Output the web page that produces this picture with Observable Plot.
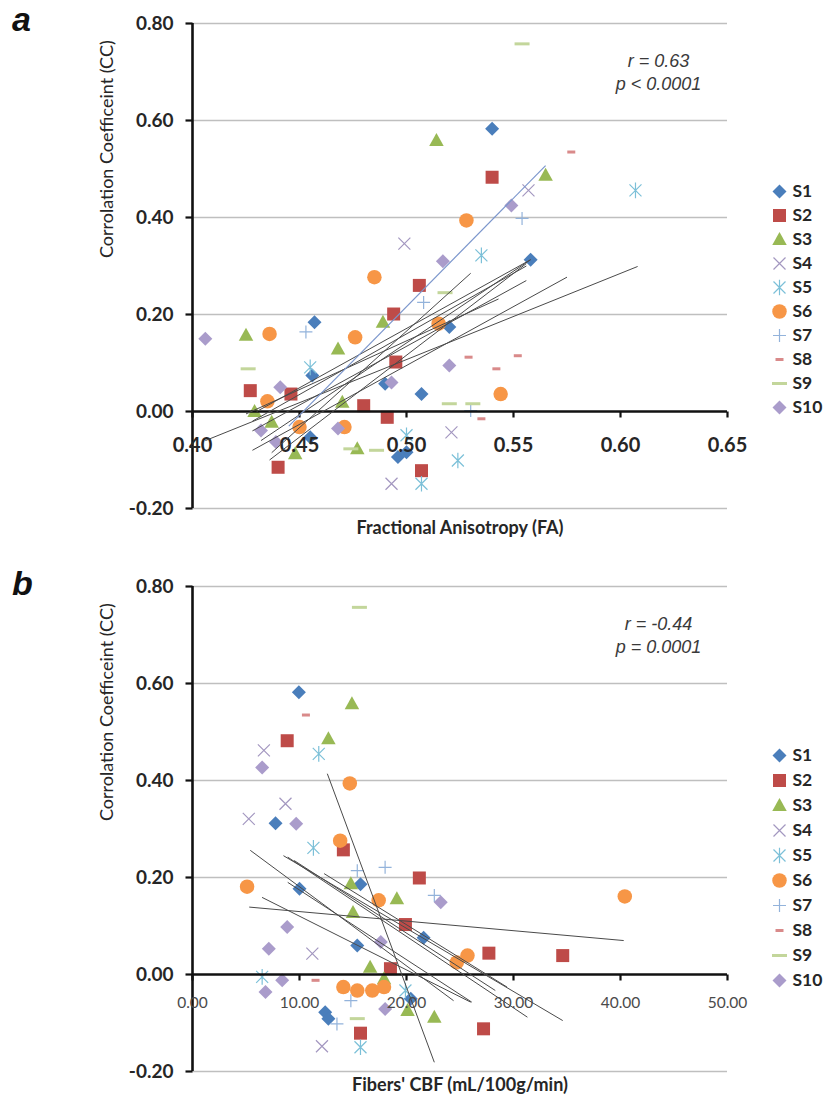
<!DOCTYPE html>
<html>
<head>
<meta charset="utf-8">
<script src="https://cdn.jsdelivr.net/npm/d3@7"></script>
<script src="https://cdn.jsdelivr.net/npm/@observablehq/plot@0.6"></script>
<style>
  html, body { margin: 0; padding: 0; background: #fff; width: 832px; height: 1099px; overflow: hidden; }
  #page { position: relative; width: 832px; height: 1099px; font-family: Lato, sans-serif; }
  #page > div, #page > svg { position: absolute; }
  .tag { left: 12px; font: italic bold 34px "Liberation Sans", Arial, sans-serif; color: #111; line-height: 1; }
</style>
</head>
<body>
<div id="page"></div>
<script>
// ---- data -------------------------------------------------------------
const subjects = ["S1", "S2", "S3", "S4", "S5", "S6", "S7", "S8", "S9", "S10"];
const ccTicks = [-0.2, 0, 0.2, 0.4, 0.6, 0.8];
const faTicks = [0.40, 0.45, 0.50, 0.55, 0.60, 0.65];
const cbfTicks = [0, 10, 20, 30, 40, 50];

// [subject, fractional anisotropy, correlation coefficient]
const faPoints = [
  ["S1", 0.540, 0.583], ["S1", 0.457, 0.184], ["S1", 0.520, 0.174], ["S1", 0.456, 0.074], ["S1", 0.490, 0.057],
  ["S1", 0.507, 0.036], ["S1", 0.558, 0.313], ["S1", 0.455, -0.053], ["S1", 0.496, -0.094], ["S1", 0.500, -0.084],
  ["S2", 0.540, 0.483], ["S2", 0.506, 0.260], ["S2", 0.494, 0.201], ["S2", 0.495, 0.102], ["S2", 0.427, 0.043],
  ["S2", 0.446, 0.036], ["S2", 0.480, 0.012], ["S2", 0.491, -0.012], ["S2", 0.440, -0.115], ["S2", 0.507, -0.122],
  ["S3", 0.514, 0.559], ["S3", 0.565, 0.487], ["S3", 0.489, 0.184], ["S3", 0.425, 0.157], ["S3", 0.468, 0.129],
  ["S3", 0.470, 0.019], ["S3", 0.429, 0.000], ["S3", 0.437, -0.022], ["S3", 0.477, -0.077], ["S3", 0.448, -0.087],
  ["S4", 0.557, 0.456], ["S4", 0.499, 0.346], ["S4", 0.521, -0.043], ["S4", 0.493, -0.149],
  ["S5", 0.607, 0.456], ["S5", 0.535, 0.322], ["S5", 0.455, 0.091], ["S5", 0.500, -0.049], ["S5", 0.507, -0.149], ["S5", 0.524, -0.101],
  ["S6", 0.528, 0.394], ["S6", 0.485, 0.277], ["S6", 0.436, 0.160], ["S6", 0.515, 0.181], ["S6", 0.476, 0.153],
  ["S6", 0.435, 0.021], ["S6", 0.544, 0.036], ["S6", 0.450, -0.032], ["S6", 0.471, -0.032],
  ["S7", 0.554, 0.398], ["S7", 0.508, 0.225], ["S7", 0.453, 0.164], ["S7", 0.530, 0.002],
  ["S8", 0.577, 0.535], ["S8", 0.552, 0.115], ["S8", 0.542, 0.088], ["S8", 0.529, 0.112], ["S8", 0.535, -0.015],
  ["S9", 0.554, 0.758], ["S9", 0.518, 0.245], ["S9", 0.426, 0.088], ["S9", 0.520, 0.016], ["S9", 0.531, 0.016],
  ["S9", 0.474, -0.077], ["S9", 0.486, -0.080],
  ["S10", 0.549, 0.425], ["S10", 0.517, 0.310], ["S10", 0.406, 0.150], ["S10", 0.520, 0.095], ["S10", 0.493, 0.060],
  ["S10", 0.441, 0.050], ["S10", 0.432, -0.039], ["S10", 0.468, -0.035], ["S10", 0.439, -0.063]
];

// per-subject linear fits: [FA start, CC start, FA end, CC end]
const faFits = [
  [0.406, -0.060, 0.608, 0.299],
  [0.428, -0.080, 0.575, 0.277],
  [0.428, -0.040, 0.556, 0.270],
  [0.430, 0.000, 0.558, 0.313],
  [0.432, -0.060, 0.558, 0.313],
  [0.425, -0.005, 0.543, 0.232],
  [0.436, -0.100, 0.556, 0.305],
  [0.437, -0.085, 0.530, 0.285],
  [0.428, -0.020, 0.556, 0.300]
];
const faFitBlue = [[0.445, -0.030, 0.565, 0.507]];

// [subject, fibers' CBF (mL/100g/min), correlation coefficient]
const cbfPoints = [
  ["S1", 9.94, 0.582], ["S1", 7.76, 0.312], ["S1", 15.7, 0.186], ["S1", 10.0, 0.177], ["S1", 21.6, 0.076],
  ["S1", 15.4, 0.060], ["S1", 20.4, -0.050], ["S1", 12.4, -0.078], ["S1", 12.7, -0.091],
  ["S2", 8.85, 0.482], ["S2", 14.1, 0.257], ["S2", 21.2, 0.199], ["S2", 19.9, 0.103], ["S2", 27.7, 0.044],
  ["S2", 34.6, 0.039], ["S2", 18.5, 0.012], ["S2", 15.7, -0.121], ["S2", 27.2, -0.112],
  ["S3", 14.9, 0.558], ["S3", 12.7, 0.486], ["S3", 14.8, 0.187], ["S3", 19.1, 0.156], ["S3", 15.0, 0.128],
  ["S3", 16.6, 0.015], ["S3", 17.9, -0.009], ["S3", 20.1, -0.074], ["S3", 22.6, -0.088],
  ["S4", 6.67, 0.462], ["S4", 8.69, 0.352], ["S4", 5.26, 0.321], ["S4", 11.2, 0.043], ["S4", 12.1, -0.148],
  ["S5", 11.8, 0.455], ["S5", 11.3, 0.261], ["S5", 6.51, -0.005], ["S5", 15.7, -0.150], ["S5", 19.9, -0.033],
  ["S6", 14.7, 0.394], ["S6", 13.8, 0.276], ["S6", 5.1, 0.181], ["S6", 17.4, 0.153], ["S6", 25.7, 0.039],
  ["S6", 24.7, 0.025], ["S6", 40.4, 0.161], ["S6", 14.1, -0.026], ["S6", 15.4, -0.033], ["S6", 16.8, -0.033], ["S6", 17.9, -0.026],
  ["S7", 15.4, 0.214], ["S7", 18.0, 0.221], ["S7", 22.6, 0.163], ["S7", 13.5, -0.102], ["S7", 14.8, -0.054],
  ["S8", 10.6, 0.535], ["S8", 11.5, -0.012],
  ["S9", 15.6, 0.757], ["S9", 15.4, -0.091],
  ["S10", 6.51, 0.427], ["S10", 9.69, 0.311], ["S10", 23.2, 0.149], ["S10", 8.85, 0.098], ["S10", 17.6, 0.067],
  ["S10", 7.13, 0.053], ["S10", 8.38, -0.012], ["S10", 6.82, -0.036], ["S10", 18.0, -0.071]
];

// [CBF start, CC start, CBF end, CC end]
const cbfFits = [
  [12.6, 0.414, 22.6, -0.181],
  [5.3, 0.139, 40.3, 0.070],
  [5.4, 0.256, 24.4, -0.054],
  [8.5, 0.245, 34.6, -0.095],
  [8.9, 0.242, 31.3, -0.088],
  [6.5, 0.159, 26.0, -0.057],
  [12.3, 0.208, 29.4, -0.026],
  [8.9, 0.190, 26.1, -0.057],
  [9.5, 0.235, 28.3, -0.033]
];

// ---- marker shapes ----------------------------------------------------
const rad = size => Math.sqrt(size / Math.PI);
const shapes = {
  diamond: { draw(c, s) { const r = rad(s) * 1.4; c.moveTo(0, -r); c.lineTo(r, 0); c.lineTo(0, r); c.lineTo(-r, 0); c.closePath(); } },
  square: { draw(c, s) { const r = rad(s) * 1.3; c.rect(-r, -r, 2 * r, 2 * r); } },
  triangle: { draw(c, s) { const r = rad(s); c.moveTo(0, -1.5 * r); c.lineTo(1.45 * r, 1.1 * r); c.lineTo(-1.45 * r, 1.1 * r); c.closePath(); } },
  circle: { draw(c, s) { const r = rad(s) * 1.45; c.moveTo(r, 0); c.arc(0, 0, r, 0, 2 * Math.PI); } },
  times: { draw(c, s) { const r = rad(s) * 1.2; c.moveTo(-r, -r); c.lineTo(r, r); c.moveTo(r, -r); c.lineTo(-r, r); } },
  asterisk: { draw(c, s) { const r = rad(s) * 1.2; c.moveTo(-r, -r); c.lineTo(r, r); c.moveTo(r, -r); c.lineTo(-r, r); c.moveTo(0, -1.3 * r); c.lineTo(0, 1.3 * r); } },
  plus: { draw(c, s) { const r = rad(s) * 1.3; c.moveTo(-r, 0); c.lineTo(r, 0); c.moveTo(0, -r); c.lineTo(0, r); } },
  shortDash: { draw(c, s) { const r = rad(s) * 0.8; c.moveTo(-r, 0); c.lineTo(r, 0); } },
  longDash: { draw(c, s) { const r = rad(s) * 1.5; c.moveTo(-r, 0); c.lineTo(r, 0); } },
  tickDown: { draw(c) { c.moveTo(0, 0); c.lineTo(0, 6); } },
  tickLeft: { draw(c) { c.moveTo(0, 0); c.lineTo(-7, 0); } }
};

const seriesStyle = {
  S1: { shape: "diamond", fill: "#4A7EBB" },
  S2: { shape: "square", fill: "#BE4B48" },
  S3: { shape: "triangle", fill: "#98B954" },
  S4: { shape: "times", stroke: "#A397C0", width: 1.2 },
  S5: { shape: "asterisk", stroke: "#7CC0D8", width: 1.2 },
  S6: { shape: "circle", fill: "#F79646" },
  S7: { shape: "plus", stroke: "#93B3DB", width: 1.2 },
  S8: { shape: "shortDash", stroke: "#D98A8A", width: 3 },
  S9: { shape: "longDash", stroke: "#C3D69B", width: 3 },
  S10: { shape: "diamond", fill: "#AA9CCB" }
};

function symbolOptions(name) {
  const st = seriesStyle[name];
  return st.fill
    ? { symbol: shapes[st.shape], r: 5, fill: st.fill, stroke: "none" }
    : { symbol: shapes[st.shape], r: 5, fill: "none", stroke: st.stroke, strokeWidth: st.width };
}

// two decimals with a plain hyphen for negatives
const fmt2 = d => (Math.abs(d) < 1e-9 ? 0 : d).toFixed(2);

// ---- one scatter panel ------------------------------------------------
function scatterPanel({ points, fits, fitsBlue, xDomain, xTicks, xTickText, xLabel, xLabelDy, stat, height, marginBottom }) {
  const x0 = xDomain[0];
  return Plot.plot({
    width: 832, height, marginLeft: 192, marginRight: 105, marginTop: 23, marginBottom,
    style: { fontFamily: "Lato, sans-serif", overflow: "visible", background: "transparent" },
    x: { domain: xDomain, axis: null },
    y: { domain: [-0.2, 0.8], axis: null },
    marks: [
      Plot.ruleY(ccTicks.filter(v => v !== 0), { stroke: "#bfbfbf", strokeWidth: 1.4 }),
      // y axis
      Plot.ruleX([x0], { stroke: "#111", strokeWidth: 2.6 }),
      Plot.dot(ccTicks, { x: () => x0, y: d => d, symbol: shapes.tickLeft, stroke: "#111", strokeWidth: 2.2 }),
      Plot.text(ccTicks, { x: () => x0, y: d => d, text: fmt2, textAnchor: "end", dx: -19,
        fontSize: 19, fontWeight: "bold", fill: "#262626" }),
      Plot.text(["Corrolation Coefficeint (CC)"], { frameAnchor: "left", dx: -85, dy: -8, rotate: -90,
        fontSize: 18, fill: "#262626" }),
      // points
      ...subjects.map(s => Plot.dot(points.filter(p => p[0] === s), { x: p => p[1], y: p => p[2], ...symbolOptions(s) })),
      // x axis along CC = 0
      Plot.ruleY([0], { stroke: "#111", strokeWidth: 2.6 }),
      Plot.dot(xTicks, { x: d => d, y: () => 0, symbol: shapes.tickDown, stroke: "#111", strokeWidth: 2.2 }),
      Plot.text(xTicks, { x: d => d, y: () => 0, text: fmt2, lineAnchor: "middle", ...xTickText }),
      Plot.text([xLabel], { frameAnchor: "bottom", dy: xLabelDy, lineAnchor: "middle", fontSize: 18, fontWeight: "bold", fill: "#262626" }),
      // fitted lines
      Plot.link(fits, { x1: d => d[0], y1: d => d[1], x2: d => d[2], y2: d => d[3], stroke: "#4a4a4a", strokeWidth: 1 }),
      Plot.link(fitsBlue, { x1: d => d[0], y1: d => d[1], x2: d => d[2], y2: d => d[3], stroke: "#7B96CC", strokeWidth: 1.2 }),
      // statistics
      Plot.text([stat], { frameAnchor: "top-right", dx: -69, dy: 48, lineAnchor: "middle", textAnchor: "middle",
        lineHeight: 1.25, fontSize: 18, fontStyle: "italic", fontFamily: "'Liberation Sans', Arial, sans-serif", fill: "#3a3a3a" })
    ]
  });
}

function legendPlot(range) {
  return Plot.plot({
    width: 72, height: 300, margin: 0,
    style: { fontFamily: "Lato, sans-serif", overflow: "visible", background: "transparent" },
    y: { type: "point", domain: subjects, range, axis: null },
    marks: [
      ...subjects.map(s => Plot.dot([s], { y: d => d, frameAnchor: "left", dx: 19, ...symbolOptions(s) })),
      Plot.text(subjects, { y: d => d, text: d => d, frameAnchor: "left", dx: 32, textAnchor: "start",
        fontSize: 17.5, fontWeight: "bold", fill: "#262626" })
    ]
  });
}

// ---- assemble ---------------------------------------------------------
const page = document.getElementById("page");

const panelA = scatterPanel({
  points: faPoints, fits: faFits, fitsBlue: faFitBlue,
  xDomain: [0.40, 0.65], xTicks: faTicks,
  xTickText: { dy: 34, fontSize: 20, fontWeight: "bold", fill: "#262626" },
  xLabel: "Fractional Anisotropy (FA)", xLabelDy: 20, stat: "r = 0.63\np < 0.0001",
  height: 550, marginBottom: 42
});
panelA.style.left = "0px"; panelA.style.top = "0px";
page.appendChild(panelA);

const panelB = scatterPanel({
  points: cbfPoints, fits: cbfFits, fitsBlue: [],
  xDomain: [0, 50], xTicks: cbfTicks,
  xTickText: { dy: 29, fontSize: 15.5, fill: "#4a4a4a" },
  xLabel: "Fibers' CBF (mL/100g/min)", xLabelDy: 14, stat: "r = -0.44\np = 0.0001",
  height: 536, marginBottom: 28
});
panelB.style.left = "0px"; panelB.style.top = "563px";
page.appendChild(panelB);

const legA = legendPlot([24, 273]);
legA.style.left = "760px"; legA.style.top = "150px";
page.appendChild(legA);

const legB = legendPlot([28, 280]);
legB.style.left = "760px"; legB.style.top = "713px";
page.appendChild(legB);

for (const [label, top] of [["a", 2], ["b", 566]]) {
  const t = document.createElement("div");
  t.className = "tag";
  t.textContent = label;
  t.style.top = top + "px";
  page.appendChild(t);
}
</script>
</body>
</html>
